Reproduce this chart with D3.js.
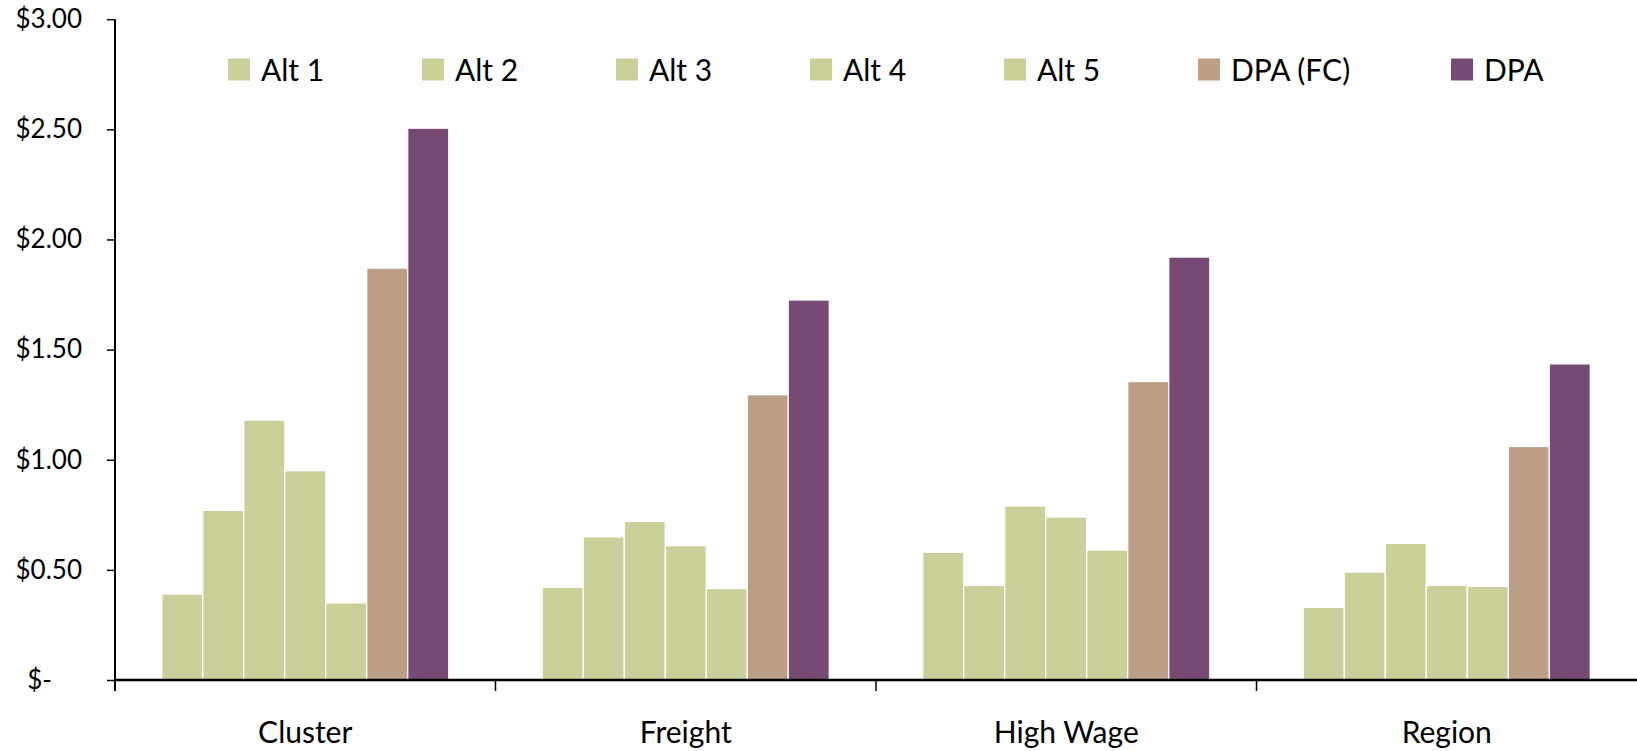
<!DOCTYPE html>
<html>
<head>
<meta charset="utf-8">
<script src="https://cdn.jsdelivr.net/npm/d3@7"></script>
<style>
  html, body { margin: 0; padding: 0; background: #ffffff; }
  svg { display: block; }
</style>
</head>
<body>
<svg id="chart" width="1637" height="751"></svg>
<script>
const categories = ["Cluster", "Freight", "High Wage", "Region"];
const seriesNames = ["Alt 1", "Alt 2", "Alt 3", "Alt 4", "Alt 5", "DPA (FC)", "DPA"];
const seriesColors = ["#CBD09A", "#CBD09A", "#CBD09A", "#CBD09A", "#CBD09A", "#BD9E86", "#774A73"];
const alt1 = [0.39, 0.42, 0.58, 0.33];
const alt2 = [0.77, 0.65, 0.43, 0.49];
const alt3 = [1.18, 0.72, 0.79, 0.62];
const alt4 = [0.95, 0.61, 0.74, 0.43];
const alt5 = [0.35, 0.415, 0.59, 0.425];
const dpaFC = [1.87, 1.295, 1.355, 1.06];
const dpa = [2.505, 1.725, 1.92, 1.435];
const yTicks = [0, 0.5, 1.0, 1.5, 2.0, 2.5, 3.0];
const yTickLabels = ["$-", "$0.50", "$1.00", "$1.50", "$2.00", "$2.50", "$3.00"];

const seriesValues = [alt1, alt2, alt3, alt4, alt5, dpaFC, dpa];

(function () {
const svg = d3.select("#chart");
const mLeft = 115, mRight = 1637, mTop = 19.2, mBottom = 680;

const x0 = d3.scaleBand().domain(categories).range([mLeft, mRight]).padding(0);
const x1 = d3.scaleBand().domain(seriesNames).range([0, x0.bandwidth()])
  .paddingInner(0).paddingOuter(1.14);
const y = d3.scaleLinear().domain([0, 3]).range([mBottom, mTop]);

// bars
const groups = svg.append("g").selectAll("g")
  .data(categories)
  .join("g")
  .attr("transform", d => `translate(${x0(d)},0)`);

groups.selectAll("rect")
  .data((c, ci) => seriesNames.map((s, si) => ({ s, si, v: seriesValues[si][ci] })))
  .join("rect")
  .attr("x", d => x1(d.s))
  .attr("width", x1.bandwidth())
  .attr("y", d => y(d.v))
  .attr("height", d => y(0) - y(d.v))
  .attr("fill", d => seriesColors[d.si])
  .attr("stroke", "#ffffff")
  .attr("stroke-width", 1.2);

// y axis
const yAxis = d3.axisLeft(y)
  .tickValues(yTicks)
  .tickFormat((d, i) => yTickLabels[i])
  .tickSizeOuter(0)
  .tickSizeInner(8)
  .tickPadding(25);
const gy = svg.append("g").attr("transform", `translate(${mLeft},0)`).call(yAxis);
gy.select(".domain").attr("stroke", "#000").attr("stroke-width", 2)
  .attr("d", `M0,${mTop}V${mBottom + 11}`);
gy.selectAll(".tick line").attr("stroke", "#000").attr("stroke-width", 1.5);
gy.selectAll(".tick text")
  .attr("font-family", "Lato, 'Open Sans', sans-serif")
  .attr("font-size", 26)
  .attr("fill", "#000")
  .attr("dx", (d) => d === 0 ? -30 : 0);

// x axis
const boundaries = categories.map(c => x0(c));
const gx = svg.append("g").attr("transform", `translate(0,${mBottom})`);
gx.append("line").attr("x1", mLeft).attr("x2", mRight).attr("y1", 0).attr("y2", 0)
  .attr("stroke", "#000").attr("stroke-width", 2.5);
gx.selectAll("line.tk").data(boundaries).join("line").attr("class", "tk")
  .attr("x1", d => d).attr("x2", d => d).attr("y1", 0).attr("y2", 11)
  .attr("stroke", "#000").attr("stroke-width", 1.5);
gx.selectAll("text").data(categories).join("text")
  .attr("x", d => x0(d) + x0.bandwidth() / 2)
  .attr("y", 63)
  .attr("text-anchor", "middle")
  .attr("font-family", "Lato, 'Open Sans', sans-serif")
  .attr("font-size", 30)
  .attr("fill", "#000")
  .text(d => d);

// legend
const legendX = [228, 422, 616, 810, 1004, 1198, 1451];
const legend = svg.append("g");
seriesNames.forEach((s, i) => {
  const lx = legendX[i];
  const g = legend.append("g");
  g.append("rect").attr("x", lx).attr("y", 58.5).attr("width", 22).attr("height", 22)
    .attr("fill", seriesColors[i]);
  g.append("text").attr("x", lx + 33).attr("y", 81)
    .attr("font-family", "Lato, 'Open Sans', sans-serif")
    .attr("font-size", 30).attr("fill", "#000").text(s);
});
})();
</script>
</body>
</html>
